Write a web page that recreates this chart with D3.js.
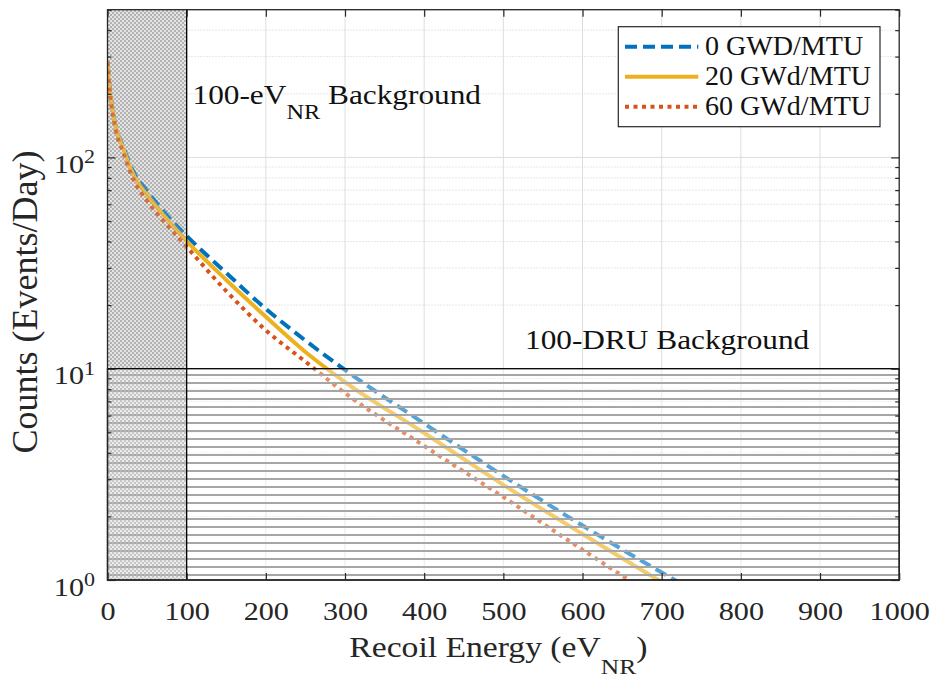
<!DOCTYPE html>
<html>
<head>
<meta charset="utf-8">
<script src="https://cdn.jsdelivr.net/npm/d3@7"></script>
<style>
  body { margin: 0; background: #fff; }
  text { font-family: "Liberation Serif", "Times New Roman", serif; }
</style>
</head>
<body>
<div id="chart"></div>
<script>
// values
const energy = [0, 3, 9, 20, 33, 50, 75, 100, 150, 200, 250, 300, 400, 500, 600, 700, 750];
const counts0 = [283, 210.7, 148.7, 112.0, 85.3, 69.3, 53.4, 42.5, 28.4, 19.2, 13.6, 9.86, 5.50, 3.11, 1.81, 1.085, 0.85];
const counts20 = [283, 208.4, 147.1, 109.6, 82.5, 66.4, 51.1, 40.2, 26.3, 17.6, 12.0, 8.65, 4.96, 2.82, 1.65, 0.978, 0.76];
const counts60 = [283, 203.9, 142.3, 104.9, 78.2, 62.2, 47.9, 37.7, 23.3, 15.2, 10.8, 7.67, 4.31, 2.47, 1.39, 0.80, 0.62];
const seriesNames = ["0 GWD/MTU", "20 GWd/MTU", "60 GWd/MTU"];
const xTicks = [0, 100, 200, 300, 400, 500, 600, 700, 800, 900, 1000];
const yTicks = [1, 10, 100];
const evBackground = [0, 100];     // eV_NR window
const druBackground = [1, 10];     // counts band

const width = 935, height = 677;
const plotL = 107.5, plotR = 899.2, plotT = 9.7, plotB = 580;
const sx = 1.16; // horizontal stretch of the figure's type

const x = d3.scaleLinear().domain([0, 1000]).range([plotL, plotR]);
const y = d3.scaleLog().domain([1, 500]).range([plotB, plotT]);

const svg = d3.select("#chart").append("svg")
  .attr("width", width)
  .attr("height", height);

const defs = svg.append("defs");
defs.append("clipPath").attr("id", "plot-clip")
  .append("rect")
  .attr("x", plotL).attr("y", plotT)
  .attr("width", plotR - plotL).attr("height", plotB - plotT);

// cross-hatch for the eV window
const chk = defs.append("pattern")
  .attr("id", "checker")
  .attr("patternUnits", "userSpaceOnUse")
  .attr("width", 4).attr("height", 4);
chk.append("rect").attr("width", 4).attr("height", 4).attr("fill", "#e0e0e0");
chk.append("rect").attr("width", 2).attr("height", 2).attr("fill", "#a8a8a8");
chk.append("rect").attr("x", 2).attr("y", 2).attr("width", 2).attr("height", 2).attr("fill", "#a8a8a8");

// horizontal lines for the DRU band
const hl = defs.append("pattern")
  .attr("id", "hlines")
  .attr("patternUnits", "userSpaceOnUse")
  .attr("width", 8).attr("height", 8)
  .attr("y", 3);
hl.append("rect").attr("y", 3).attr("width", 8).attr("height", 2).attr("fill", "#a6a6a6");

// grid
const minorY = [];
[1, 10, 100].forEach(d => {
  for (let k = 2; k <= 9; k++) if (d * k <= 500) minorY.push(d * k);
});

const grid = svg.append("g");
grid.selectAll(".vx").data(xTicks.slice(1, -1)).join("line")
  .attr("x1", d => x(d)).attr("x2", d => x(d))
  .attr("y1", plotT).attr("y2", plotB)
  .attr("stroke", "#dedede").attr("stroke-width", 1);
grid.selectAll(".my").data(minorY).join("line")
  .attr("x1", plotL).attr("x2", plotR)
  .attr("y1", d => y(d)).attr("y2", d => y(d))
  .attr("stroke", "#cfcfcf").attr("stroke-width", 1)
  .attr("stroke-dasharray", "1,2");
grid.selectAll(".gy").data(yTicks.slice(1)).join("line")
  .attr("x1", plotL).attr("x2", plotR)
  .attr("y1", d => y(d)).attr("y2", d => y(d))
  .attr("stroke", "#dedede").attr("stroke-width", 1);

// eV window underlay
const evRect = g => g
  .attr("x", x(evBackground[0])).attr("y", plotT)
  .attr("width", x(evBackground[1]) - x(evBackground[0])).attr("height", plotB - plotT)
  .attr("fill", "url(#checker)");
svg.append("rect").call(evRect).attr("opacity", 0.85);

// curves
const series = [
  { name: seriesNames[0], values: counts0, color: "#0072BD", dash: "12,6" },
  { name: seriesNames[1], values: counts20, color: "#EDB120", dash: null },
  { name: seriesNames[2], values: counts60, color: "#D95319", dash: "4,4.5" }
];

const line = d3.line()
  .x(d => x(d[0]))
  .y(d => y(d[1]))
  .curve(d3.curveMonotoneX);

const curves = svg.append("g").attr("clip-path", "url(#plot-clip)");
series.forEach(s => {
  curves.append("path")
    .datum(energy.map((e, i) => [e, s.values[i]]))
    .attr("d", line)
    .attr("fill", "none")
    .attr("stroke", s.color)
    .attr("stroke-width", 4)
    .attr("stroke-dasharray", s.dash);
});

// background regions over the curves
const dru = svg.append("g");
dru.append("rect")
  .attr("x", x(0)).attr("y", y(druBackground[1]))
  .attr("width", x(1000) - x(0)).attr("height", y(druBackground[0]) - y(druBackground[1]))
  .attr("fill", "#fff").attr("opacity", 0.35);
dru.append("rect")
  .attr("x", x(0)).attr("y", y(druBackground[1]))
  .attr("width", x(1000) - x(0)).attr("height", y(druBackground[0]) - y(druBackground[1]))
  .attr("fill", "url(#hlines)");

svg.append("rect").call(evRect).attr("opacity", 0.25);

svg.append("rect")
  .attr("x", x(0)).attr("y", y(druBackground[1]))
  .attr("width", x(1000) - x(0)).attr("height", y(druBackground[0]) - y(druBackground[1]))
  .attr("fill", "none").attr("stroke", "#000").attr("stroke-width", 1.3);
svg.append("line")
  .attr("x1", x(evBackground[1])).attr("x2", x(evBackground[1]))
  .attr("y1", plotT).attr("y2", plotB)
  .attr("stroke", "#000").attr("stroke-width", 1.3);

// annotations
const ann1 = svg.append("text")
  .attr("transform", `translate(192.5,104) scale(${sx},1)`)
  .attr("font-size", 27).attr("fill", "#111");
ann1.append("tspan").text("100-eV");
ann1.append("tspan").attr("font-size", 21).attr("dy", 15).text("NR");
ann1.append("tspan").attr("dy", -15).text(" Background");

svg.append("text")
  .attr("transform", `translate(525,348.5) scale(${sx},1)`)
  .attr("font-size", 27).attr("fill", "#111")
  .text("100-DRU Background");

// axes box and ticks
const axisColor = "#262626";
function styleAxis(g) {
  g.select(".domain").remove();
  g.selectAll(".tick line").attr("stroke", axisColor).attr("stroke-width", 1.2);
}

svg.append("g")
  .attr("transform", `translate(0,${plotB})`)
  .call(d3.axisBottom(x).tickValues(xTicks).tickSize(-7).tickFormat(d3.format("d")))
  .call(styleAxis)
  .call(g => g.selectAll(".tick text")
    .attr("y", 40).attr("dy", null)
    .attr("transform", `scale(${sx},1)`)
    .attr("font-size", 26).attr("font-family", "Liberation Serif")
    .attr("fill", axisColor));

svg.append("g")
  .attr("transform", `translate(0,${plotT})`)
  .call(d3.axisTop(x).tickValues(xTicks).tickSize(-7).tickFormat(""))
  .call(styleAxis);

[[d3.axisLeft, plotL], [d3.axisRight, plotR]].forEach(([ax, pos]) => {
  svg.append("g")
    .attr("transform", `translate(${pos},0)`)
    .call(ax(y).tickValues(yTicks).tickSize(-8).tickFormat(""))
    .call(styleAxis);
  svg.append("g")
    .attr("transform", `translate(${pos},0)`)
    .call(ax(y).tickValues(minorY).tickSize(-4).tickFormat(""))
    .call(styleAxis);
});

yTicks.forEach(t => {
  const lab = svg.append("text")
    .attr("transform", `translate(95,${y(t) + 15.6}) scale(${sx},1)`)
    .attr("text-anchor", "end")
    .attr("font-size", 26).attr("fill", axisColor);
  lab.append("tspan").text("10");
  lab.append("tspan").attr("font-size", 19).attr("dy", -9.6).text(Math.round(Math.log10(t)));
});

svg.append("rect")
  .attr("x", plotL).attr("y", plotT)
  .attr("width", plotR - plotL).attr("height", plotB - plotT)
  .attr("fill", "none").attr("stroke", axisColor).attr("stroke-width", 1.3);

// axis titles
const xt = svg.append("text")
  .attr("transform", `translate(349.3,656.7) scale(${sx},1)`)
  .attr("font-size", 29).attr("fill", axisColor);
xt.append("tspan").text("Recoil Energy (eV");
xt.append("tspan").attr("font-size", 22).attr("dy", 17).text("NR");
xt.append("tspan").attr("dy", -17).text(")");

svg.append("text")
  .attr("transform", "translate(37,302) rotate(-90)")
  .attr("text-anchor", "middle")
  .attr("font-size", 36).attr("fill", axisColor)
  .text("Counts (Events/Day)");

// legend
const legend = svg.append("g");
legend.append("rect")
  .attr("x", 618.3).attr("y", 26.7)
  .attr("width", 880 - 618.3).attr("height", 100)
  .attr("fill", "#fff").attr("stroke", axisColor).attr("stroke-width", 1.2);
series.forEach((s, i) => {
  const ly = 46.7 + i * 30;
  legend.append("line")
    .attr("x1", 625).attr("x2", 698.3)
    .attr("y1", ly).attr("y2", ly)
    .attr("stroke", s.color).attr("stroke-width", 4)
    .attr("stroke-dasharray", s.dash);
  legend.append("text")
    .attr("transform", `translate(705,${ly + 8.5}) scale(1.04,1)`)
    .attr("font-size", 27).attr("fill", "#111")
    .text(s.name);
});
</script>
</body>
</html>
